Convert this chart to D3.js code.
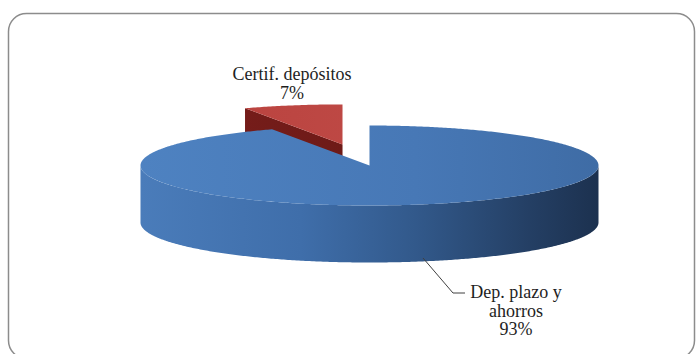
<!DOCTYPE html>
<html>
<head>
<meta charset="utf-8">
<script src="https://cdn.jsdelivr.net/npm/d3@7/dist/d3.min.js"></script>
<style>
  html, body { margin: 0; padding: 0; background: #fff; }
  svg { display: block; }
  text { font-family: "Liberation Serif", "Times New Roman", serif; fill: #1e1e1e; }
</style>
</head>
<body>
<svg id="chart" width="697" height="354"></svg>
<script>
// Deposit composition
const categories = ["Dep. plazo y ahorros", "Certif. depósitos"];
const values = [93, 7];
const labelLines = [["Dep. plazo y", "ahorros", "93%"], ["Certif. depósitos", "7%"]];

const W = 697, H = 354;
const svg = d3.select("#chart");

// Frame
svg.append("rect")
  .attr("x", 8.5).attr("y", 13.5).attr("width", 686).attr("height", 345)
  .attr("rx", 18).attr("ry", 18)
  .attr("fill", "#fff").attr("stroke", "#8c8c8c").attr("stroke-width", 1.5);

// Pie geometry (tilted disc)
const cx = 369.5, cy = 165.5, rx = 229, ry = 40, depth = 57;
const explode = [0, 0.54];

const defs = svg.append("defs");
function hGrad(id, stops) {
  const g = defs.append("linearGradient").attr("id", id)
    .attr("gradientUnits", "userSpaceOnUse")
    .attr("x1", cx - rx).attr("x2", cx + rx).attr("y1", 0).attr("y2", 0);
  stops.forEach(([o, c]) => g.append("stop").attr("offset", o).attr("stop-color", c));
}
hGrad("blueTop", [[0, "#4e82c1"], [0.6, "#4778b6"], [1, "#3f6ca5"]]);
hGrad("blueSide", [[0, "#4a7cba"], [0.35, "#3f6eaa"], [0.6, "#32598b"], [0.85, "#243f64"], [1, "#1c314f"]]);
hGrad("redTop", [[0, "#b8403c"], [1, "#c4524e"]]);
hGrad("redCut", [[0, "#7c1f1c"], [1, "#5c1412"]]);

const fills = [
  { top: "url(#blueTop)", side: "url(#blueSide)", cut: "#2b4a75" },
  { top: "url(#redTop)", side: "#8a2825", cut: "url(#redCut)" }
];

const arcs = d3.pie().sort(null).value(d => d)(values);

function pt(a, r, ox, oy, dz) {
  return [cx + ox + rx * r * Math.sin(a), cy + oy - ry * r * Math.cos(a) + (dz || 0)];
}
function arcPts(a0, a1, ox, oy, dz) {
  const n = Math.max(2, Math.ceil(Math.abs(a1 - a0) / 0.01));
  return d3.range(n + 1).map(i => pt(a0 + (a1 - a0) * i / n, 1, ox, oy, dz));
}
const line = d3.line();

// Back slices first
const order = arcs.map((d, i) => i)
  .sort((i, j) => Math.cos((arcs[j].startAngle + arcs[j].endAngle) / 2) - Math.cos((arcs[i].startAngle + arcs[i].endAngle) / 2));

const g = svg.append("g");
order.forEach(i => {
  const d = arcs[i];
  const mid = (d.startAngle + d.endAngle) / 2;
  const ox = explode[i] * rx * Math.sin(mid);
  const oy = -explode[i] * ry * Math.cos(mid);
  const f = fills[i];

  // Radial cut faces facing the viewer
  [[d.startAngle, Math.sin(d.startAngle) < -1e-6], [d.endAngle, Math.sin(d.endAngle) > 1e-6]].forEach(([a, vis]) => {
    if (!vis) return;
    const p = [pt(a, 1, ox, oy), pt(a, 0, ox, oy), pt(a, 0, ox, oy, depth), pt(a, 1, ox, oy, depth)];
    g.append("path").attr("d", line(p) + "Z").attr("fill", f.cut);
  });

  // Outer rim (front half only)
  const s = Math.max(d.startAngle, Math.PI / 2), e = Math.min(d.endAngle, 3 * Math.PI / 2);
  if (e > s) {
    const top = arcPts(s, e, ox, oy, 0);
    const bot = arcPts(e, s, ox, oy, depth);
    g.append("path").attr("d", line(top.concat(bot)) + "Z").attr("fill", f.side);
  }

  // Top face
  const topPts = [pt(0, 0, ox, oy)].concat(arcPts(d.startAngle, d.endAngle, ox, oy, 0));
  g.append("path").attr("d", line(topPts) + "Z").attr("fill", f.top);
});

// Leader line for the large slice
svg.append("path")
  .attr("d", line([[423, 258], [453, 293], [465, 293]]))
  .attr("fill", "none").attr("stroke", "#404040").attr("stroke-width", 1);

// Data labels
const labelPos = [{ x: 516, y: 298 }, { x: 292, y: 80 }];
const lh = 18.5;
labelLines.forEach((lines, i) => {
  const t = svg.append("text")
    .attr("text-anchor", "middle")
    .attr("font-size", 18)
    .attr("x", labelPos[i].x).attr("y", labelPos[i].y);
  lines.forEach((s, k) => t.append("tspan").attr("x", labelPos[i].x).attr("dy", k ? lh : 0).text(s));
});
</script>
</body>
</html>
